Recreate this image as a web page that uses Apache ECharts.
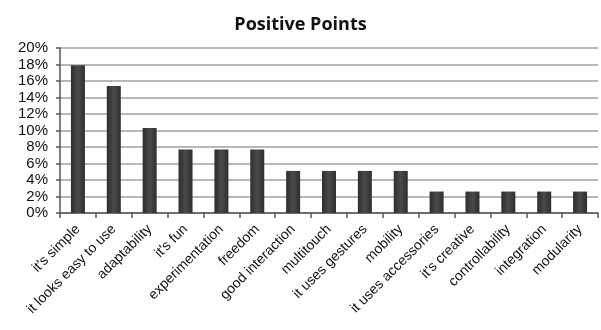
<!DOCTYPE html>
<html>
<head>
<meta charset="utf-8">
<script src="https://cdn.jsdelivr.net/npm/echarts@6/dist/echarts.min.js"></script>
<style>
  html, body { margin: 0; padding: 0; background: #fff; }
  #chart { width: 601px; height: 330px; }
</style>
</head>
<body>
<div id="chart"></div>
<script>
const categories = ['it\'s simple', 'it looks easy to use', 'adaptability', 'it\'s fun', 'experimentation', 'freedom', 'good interaction', 'multitouch', 'it uses gestures', 'mobility', 'it uses accessories', 'it\'s creative', 'controllability', 'integration', 'modularity']
const values = [17.9, 15.4, 10.3, 7.7, 7.7, 7.7, 5.1, 5.1, 5.1, 5.1, 2.6, 2.6, 2.6, 2.6, 2.6]
const yTicks = [0, 2, 4, 6, 8, 10, 12, 14, 16, 18, 20]

const chart = echarts.init(document.getElementById('chart'))
chart.setOption({
  animation: false,
  title: {
    text: 'Positive Points',
    left: 'center',
    top: 11,
    textStyle: { fontFamily: 'Open Sans', fontWeight: 'bold', fontSize: 18, color: '#111' }
  },
  grid: { left: 60, right: 3, top: 48, bottom: 117 },
  xAxis: {
    type: 'category',
    data: categories,
    axisLine: { lineStyle: { color: '#555', width: 1.5 } },
    axisTick: { show: true, length: 5, lineStyle: { color: '#555', width: 1.5 } },
    axisLabel: {
      interval: 0,
      rotate: 45,
      margin: 14,
      fontFamily: 'Liberation Sans',
      fontSize: 14,
      color: '#111'
    }
  },
  yAxis: {
    type: 'value',
    min: yTicks[0],
    max: yTicks[yTicks.length - 1],
    interval: 2,
    axisLine: { show: true, lineStyle: { color: '#555', width: 1.5 } },
    axisTick: { show: true, length: 4, lineStyle: { color: '#555', width: 1.5 } },
    splitLine: { lineStyle: { color: '#a0a0a0', width: 1.5 } },
    axisLabel: {
      margin: 12,
      formatter: '{value}%',
      fontFamily: 'Liberation Sans',
      fontSize: 15,
      color: '#111'
    }
  },
  series: [{
    type: 'bar',
    data: values,
    barWidth: 14,
    itemStyle: {
      color: new echarts.graphic.LinearGradient(0, 0, 1, 0, [
        { offset: 0, color: '#2e2e2e' },
        { offset: 0.5, color: '#4a4a4a' },
        { offset: 1, color: '#2e2e2e' }
      ])
    }
  }]
})
</script>
</body>
</html>
